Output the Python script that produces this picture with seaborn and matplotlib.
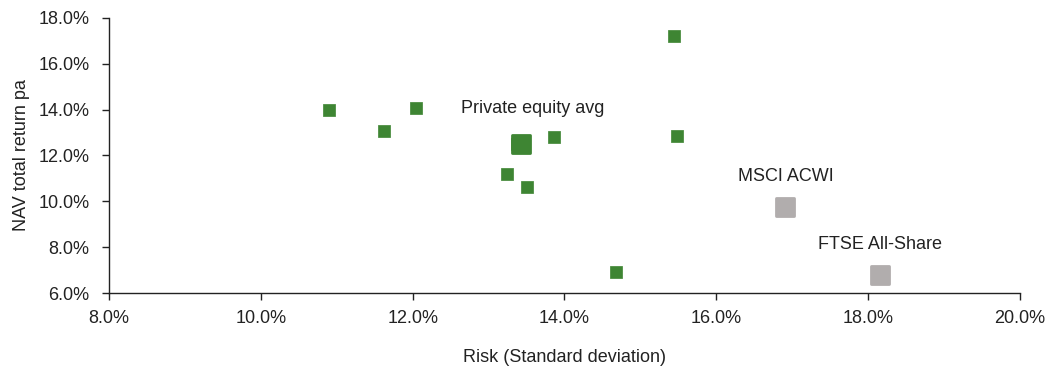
import matplotlib
matplotlib.use("Agg")
import matplotlib.pyplot as plt
import seaborn as sns
import pandas as pd
from matplotlib.ticker import FuncFormatter

sns.set_theme(style="white")
plt.rcParams['font.family'] = ['Liberation Sans Narrow', 'Liberation Sans', 'DejaVu Sans']

# Individual private equity trusts: risk (std dev, %) and NAV total return pa (%)
fund_risk = [10.90, 11.62, 12.04, 13.24, 13.38, 13.51, 13.86, 14.68, 15.44, 15.48]
fund_return = [13.99, 13.07, 14.07, 11.19, 12.50, 10.63, 12.81, 6.92, 17.21, 12.85]

# Sector average
avg_label = "Private equity avg"
avg_risk = [13.43]
avg_return = [12.50]

# Equity market benchmarks
bench_labels = ["MSCI ACWI", "FTSE All-Share"]
bench_risk = [16.91, 18.16]
bench_return = [9.75, 6.79]

funds = pd.DataFrame({"risk": fund_risk, "ret": fund_return})
avg = pd.DataFrame({"risk": avg_risk, "ret": avg_return})
bench = pd.DataFrame({"risk": bench_risk, "ret": bench_return, "name": bench_labels})

green = "#3e8533"
grey = "#b1adad"
ink = "#222222"

fig = plt.figure(figsize=(10.56, 3.70), dpi=100)
ax = fig.add_axes([0.1032, 0.2081, 0.8627, 0.7433])

sns.scatterplot(data=funds, x="risk", y="ret", ax=ax, marker="s", s=80,
                color=green, edgecolor=green, linewidth=0.5)
sns.scatterplot(data=avg, x="risk", y="ret", ax=ax, marker="s", s=150,
                color=green, edgecolor=green, linewidth=2)
sns.scatterplot(data=bench, x="risk", y="ret", ax=ax, marker="s", s=150,
                color=grey, edgecolor=grey, linewidth=2)
for coll in ax.collections:
    coll.set_joinstyle("round")

ax.text(12.64, avg_return[0] + 1.2, avg_label, ha="left",
        va="bottom", fontsize=13, color=ink)
for x, y, name in zip(bench_risk, bench_return, bench_labels):
    ax.text(x, y + 0.95, name, ha="center", va="bottom", fontsize=13, color=ink)

ax.set_xlim(8, 20)
ax.set_ylim(6, 18)
ax.set_xticks([8, 10, 12, 14, 16, 18, 20])
ax.set_yticks([6, 8, 10, 12, 14, 16, 18])
pct = FuncFormatter(lambda v, _: f"{v:.1f}%")
ax.xaxis.set_major_formatter(pct)
ax.yaxis.set_major_formatter(pct)

ax.set_xlabel("Risk (Standard deviation)", fontsize=13, color=ink, labelpad=16)
ax.set_ylabel("NAV total return pa", fontsize=13, color=ink, labelpad=6)

for side in ["top", "right"]:
    ax.spines[side].set_visible(False)
for side in ["left", "bottom"]:
    ax.spines[side].set_color(ink)
    ax.spines[side].set_linewidth(1.0)
ax.tick_params(axis="both", which="major", direction="out", length=5, width=1,
               color=ink, labelsize=13, labelcolor=ink, left=True, bottom=True)
ax.tick_params(axis="x", pad=7)
ax.tick_params(axis="y", pad=9)

fig.savefig("out.png", dpi=100)
